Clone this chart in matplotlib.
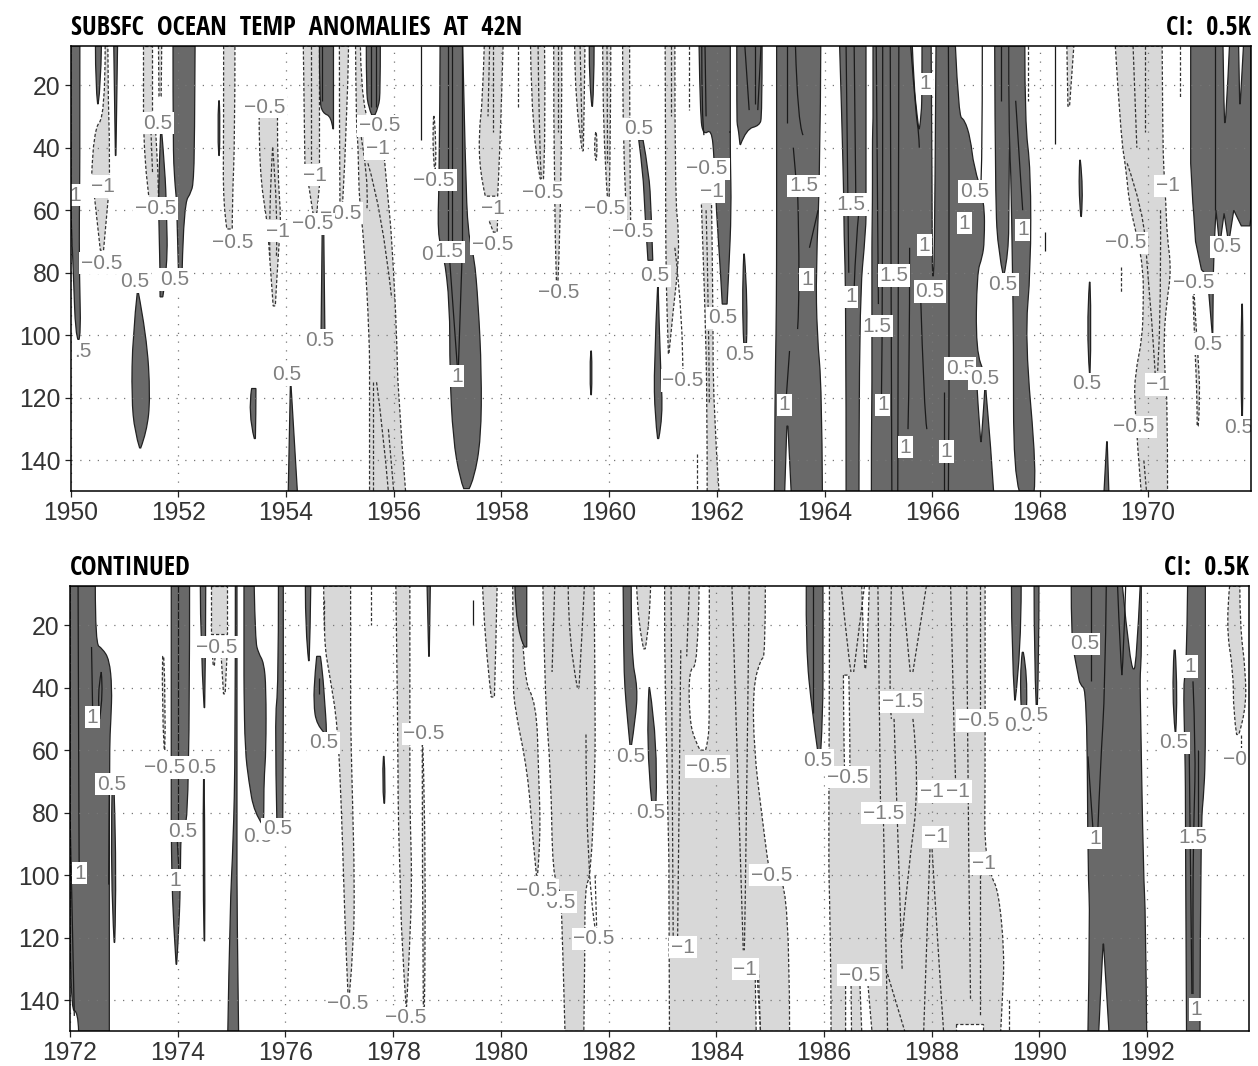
import matplotlib
matplotlib.use('Agg')
import numpy as np
import matplotlib.pyplot as plt
from matplotlib.path import Path
from matplotlib.patches import PathPatch

plt.rcParams['font.family'] = ['Liberation Sans', 'DejaVu Sans']

# every shape is (depths, left edge in years, right edge in years)
top_warm = [
    ([7.5, 52, 60, 80, 100, 101.5], [1950, 1950, 1950, 1950.05, 1950.09, 1950.14], [1950.17, 1950.17, 1950.16, 1950.16, 1950.19, 1950.15]),
    ([7.5, 20, 26], [1950.46, 1950.46, 1950.5], [1950.57, 1950.56, 1950.51]),
    ([7.5, 42.5], [1950.80, 1950.83], [1950.87, 1950.84]),
    ([35, 47, 60, 78, 87.7], [1951.67, 1951.64, 1951.63, 1951.66, 1951.66], [1951.69, 1951.75, 1951.78, 1951.80, 1951.71]),
    ([7.5, 40, 50, 54, 58, 79], [1951.90, 1951.90, 1951.93, 1951.95, 1951.97, 1952.0], [1952.31, 1952.30, 1952.28, 1952.25, 1952.10, 1952.07]),
    ([25, 34, 42.5], [1952.75, 1952.72, 1952.75], [1952.76, 1952.78, 1952.76]),
    ([85.7, 100, 120, 131, 136], [1951.24, 1951.15, 1951.13, 1951.19, 1951.28], [1951.25, 1951.41, 1951.48, 1951.41, 1951.30]),
    ([117, 125, 133], [1953.36, 1953.29, 1953.41], [1953.44, 1953.44, 1953.43]),
    ([115.5, 150], [1954.08, 1954.04], [1954.09, 1954.21]),
    ([7.5, 25, 29, 30, 34], [1954.62, 1954.62, 1954.68, 1954.84, 1954.87], [1954.88, 1954.88, 1954.88, 1954.88, 1954.88]),
    ([67, 98.7], [1954.67, 1954.65], [1954.70, 1954.72]),
    ([7.5, 22, 27, 29.5], [1955.49, 1955.49, 1955.53, 1955.59], [1955.75, 1955.75, 1955.72, 1955.65]),
    ([7.5, 47, 68, 74, 90, 111.7, 133, 146, 149], [1956.86, 1956.85, 1956.81, 1956.93, 1957.04, 1957.04, 1957.10, 1957.23, 1957.30],
     [1957.28, 1957.33, 1957.38, 1957.49, 1957.57, 1957.63, 1957.62, 1957.49, 1957.40]),
    ([7.5, 20, 26.8], [1959.63, 1959.63, 1959.68], [1959.72, 1959.72, 1959.69]),
    ([105, 112, 119], [1959.66, 1959.63, 1959.66], [1959.67, 1959.69, 1959.67]),
    ([37.6, 48, 60, 76], [1960.55, 1960.63, 1960.66, 1960.72], [1960.63, 1960.74, 1960.78, 1960.81]),
    ([84.4, 110, 126, 133], [1960.90, 1960.83, 1960.85, 1960.90], [1960.91, 1960.95, 1961.0, 1960.92]),
    ([7.5, 30, 36, 34, 43, 60, 80, 90], [1961.67, 1961.69, 1961.75, 1961.90, 1961.95, 1961.99, 1962.07, 1962.10],
     [1962.25, 1962.25, 1962.25, 1962.25, 1962.25, 1962.27, 1962.22, 1962.19]),
    ([7.5, 30, 33, 34, 39], [1962.37, 1962.37, 1962.38, 1962.40, 1962.43], [1962.84, 1962.84, 1962.79, 1962.55, 1962.44]),
    ([74, 90, 102.5], [1962.50, 1962.46, 1962.50], [1962.51, 1962.58, 1962.55]),
    ([7.5, 46, 79, 100, 117, 150], [1963.11, 1963.11, 1963.11, 1963.10, 1963.08, 1963.07], [1963.93, 1963.92, 1963.84, 1963.86, 1963.95, 1963.96]),
    ([7.5, 30, 58, 66, 90, 150], [1964.28, 1964.32, 1964.36, 1964.36, 1964.40, 1964.40], [1964.77, 1964.77, 1964.77, 1964.77, 1964.64, 1964.64]),
    ([7.5, 30, 31, 37, 46, 57, 70, 75, 80, 105, 113, 117, 134, 150],
     [1964.90, 1964.90, 1964.90, 1964.89, 1964.89, 1964.89, 1964.88, 1964.88, 1964.88, 1964.88, 1964.88, 1964.88, 1964.87, 1964.87],
     [1966.43, 1966.49, 1966.60, 1966.71, 1966.77, 1966.97, 1966.97, 1966.93, 1966.83, 1966.81, 1966.99, 1966.99, 1967.08, 1967.14]),
    ([7.5, 57, 73.8, 80.9], [1967.16, 1967.17, 1967.23, 1967.32], [1967.46, 1967.42, 1967.42, 1967.33]),
    ([7.5, 32, 47, 79, 101, 144, 150], [1967.42, 1967.42, 1967.46, 1967.49, 1967.51, 1967.51, 1967.62],
     [1967.72, 1967.72, 1967.83, 1967.83, 1967.72, 1967.94, 1967.89]),
    ([44, 53, 62], [1968.74, 1968.71, 1968.76], [1968.75, 1968.81, 1968.77]),
    ([83, 98, 112], [1968.92, 1968.86, 1968.92], [1968.93, 1968.96, 1968.93]),
    ([134, 150], [1969.24, 1969.19], [1969.25, 1969.28]),
    ([90, 108, 127], [1971.75, 1971.72, 1971.75], [1971.76, 1971.78, 1971.76]),
]
# the 1971 patch ends in fingers, so it is kept as one outline (years, depths)
top_outline_years = [1970.80, 1970.80, 1970.84, 1970.86, 1970.89, 1971.0, 1971.11, 1971.20, 1971.21, 1971.22, 1971.24, 1971.27,
                     1971.33, 1971.35, 1971.42, 1971.50, 1971.51, 1971.60, 1971.74, 1971.90, 1971.92, 1971.92]
top_outline_depths = [7.5, 45, 57.6, 62, 70, 79, 81, 99.6, 99.6, 81, 70, 60, 70, 70, 61, 70, 70, 60, 65, 65, 62, 7.5]

top_warm_holes = [
    ([129, 150], [1963.30, 1963.26], [1963.32, 1963.38]),
    ([7.5, 20, 30, 34], [1965.63, 1965.66, 1965.72, 1965.75], [1965.81, 1965.81, 1965.80, 1965.76]),
    ([7.5, 60, 80, 81], [1965.98, 1966.0, 1966.0, 1966.01], [1966.07, 1966.05, 1966.03, 1966.02]),
    ([113, 120, 134], [1966.82, 1966.84, 1966.90], [1966.99, 1966.97, 1966.91]),
    ([7.5, 30, 32], [1971.40, 1971.42, 1971.43], [1971.52, 1971.46, 1971.44]),
    ([7.5, 26], [1971.69, 1971.71], [1971.78, 1971.72]),
]
top_cool = [
    ([7.5, 30, 34, 49], [1950.64, 1950.64, 1950.42, 1950.39], [1950.69, 1950.70, 1950.72, 1950.72]),
    ([55.5, 72.8], [1950.44, 1950.55], [1950.70, 1950.61]),
    ([7.5, 29], [1951.35, 1951.35], [1951.51, 1951.51]),
    ([29, 45, 58], [1951.35, 1951.36, 1951.47], [1951.55, 1951.63, 1951.63]),
    ([7.5, 23.6], [1951.63, 1951.64], [1951.69, 1951.68]),
    ([7.5, 36, 58, 66], [1952.84, 1952.84, 1952.83, 1952.90], [1953.05, 1953.05, 1953.0, 1953.0]),
    ([30, 47, 64, 69, 90.6], [1953.50, 1953.50, 1953.65, 1953.67, 1953.76], [1953.84, 1953.84, 1953.91, 1953.87, 1953.80]),
    ([7.5, 45.7], [1954.32, 1954.35], [1954.62, 1954.62]),
    ([52, 61], [1954.42, 1954.50], [1954.62, 1954.57]),
    ([7.5, 30, 57.6], [1954.99, 1954.99, 1955.0], [1955.16, 1955.14, 1955.05]),
    ([7.5, 30, 38, 42.5, 57.6, 68, 100.9, 117, 150], [1955.29, 1955.30, 1955.33, 1955.34, 1955.36, 1955.44, 1955.55, 1955.55, 1955.55],
     [1955.38, 1955.40, 1955.80, 1955.82, 1955.90, 1955.96, 1956.06, 1956.07, 1956.22]),
    ([30, 40, 47], [1956.74, 1956.71, 1956.76], [1956.75, 1956.80, 1956.77]),
    ([7.5, 25, 35, 48, 55.5], [1957.68, 1957.65, 1957.58, 1957.60, 1957.70], [1958.03, 1958.0, 1957.98, 1957.95, 1957.93]),
    ([62, 67], [1957.74, 1957.85], [1957.93, 1957.92]),
    ([7.5, 36, 50], [1958.54, 1958.56, 1958.72], [1958.80, 1958.82, 1958.78]),
    ([7.5, 55, 82.5], [1958.97, 1958.97, 1959.02], [1959.12, 1959.12, 1959.05]),
    ([7.5, 25, 41], [1959.36, 1959.36, 1959.50], [1959.55, 1959.54, 1959.52]),
    ([35, 40, 44], [1959.75, 1959.71, 1959.75], [1959.76, 1959.79, 1959.76]),
    ([7.5, 35, 56.5], [1959.88, 1959.88, 1959.97], [1960.03, 1960.03, 1960.0]),
    ([7.5, 40, 65], [1960.25, 1960.25, 1960.33], [1960.38, 1960.38, 1960.40]),
    ([7.5, 55, 68, 80, 90, 106], [1961.04, 1961.05, 1961.05, 1961.06, 1961.07, 1961.10], [1961.22, 1961.22, 1961.30, 1961.27, 1961.20, 1961.11]),
    ([56.5, 90, 122, 150], [1961.71, 1961.78, 1961.82, 1961.82], [1961.90, 1961.93, 1961.93, 1962.04]),
    ([7.5, 26.8], [1968.50, 1968.52], [1968.63, 1968.55]),
    ([7.5, 36, 47, 58, 68, 79, 90, 101, 112, 122, 150], [1969.40, 1969.50, 1969.60, 1969.66, 1969.80, 1969.92, 1969.92, 1969.90, 1969.77, 1969.75, 1969.88],
     [1970.27, 1970.28, 1970.30, 1970.34, 1970.36, 1970.44, 1970.35, 1970.30, 1970.32, 1970.37, 1970.37]),
    ([85.7, 105, 120, 129], [1970.84, 1970.88, 1970.92, 1970.92], [1970.86, 1970.93, 1970.98, 1970.94]),
]
top_solid = [
    ([7.5, 37.6], [1956.51, 1956.51]), ([7.5, 25], [1954.66, 1954.66]),
    ([7.5, 27], [1955.57, 1955.57]), ([7.5, 27], [1955.67, 1955.67]),
    ([7.5, 70], [1957.0, 1957.0]), ([7.5, 70], [1957.08, 1957.08]), ([7.5, 70], [1957.27, 1957.27]),
    ([74, 110], [1957.03, 1957.18]), ([74, 110], [1957.27, 1957.20]),
    ([7.5, 30, 36], [1961.72, 1961.72, 1961.76]), ([7.5, 30], [1961.78, 1961.80]),
    ([7.5, 28], [1962.52, 1962.60]), ([7.5, 28], [1962.82, 1962.76]), ([7.5, 26], [1962.70, 1962.70]),
    ([7.5, 32], [1963.31, 1963.31]), ([7.5, 32, 36], [1963.46, 1963.50, 1963.60]), ([40, 52], [1963.42, 1963.48]),
    ([54, 85, 98], [1963.50, 1963.55, 1963.50]), ([60, 72], [1963.88, 1963.72]), ([105, 122], [1963.35, 1963.28]),
    ([7.5, 80], [1964.40, 1964.45]), ([7.5, 55], [1964.55, 1964.58]), ([60, 70, 85], [1964.64, 1964.58, 1964.55]),
    ([7.5, 90], [1964.96, 1965.0]), ([7.5, 110, 125], [1965.08, 1965.08, 1965.05]),
    ([7.5, 150], [1965.22, 1965.25]), ([7.5, 150], [1965.38, 1965.36]),
    ([7.5, 30, 35, 40], [1965.60, 1965.70, 1965.75, 1965.76]), ([72, 110, 130], [1965.58, 1965.58, 1965.55]),
    ([85, 125, 130], [1965.78, 1965.85, 1965.90]), ([7.5, 90, 150], [1966.30, 1966.33, 1966.30]), ([118, 150], [1966.22, 1966.22]),
    ([7.5, 47, 52], [1966.93, 1966.93, 1966.90]), ([7.5, 25], [1967.28, 1967.28]), ([25, 50, 60], [1967.55, 1967.64, 1967.68]),
    ([7.5, 38.7], [1968.28, 1968.28]), ([67, 73], [1968.10, 1968.10]), ([7.5, 60], [1971.26, 1971.26]),
]
top_dashed = [
    ([30, 48], [1951.48, 1951.52]), ([40, 60, 75], [1953.75, 1953.68, 1953.70]), ([40, 60, 75], [1953.75, 1953.85, 1953.82]),
    ([7.5, 45], [1954.47, 1954.47]), ([30, 50, 60], [1955.33, 1955.55, 1955.50]), ([45, 60, 88], [1955.52, 1955.78, 1955.96]),
    ([115, 150], [1955.62, 1955.62]), ([115, 130, 150], [1955.68, 1955.80, 1955.90]), ([130, 150], [1955.90, 1956.0]),
    ([7.5, 35], [1957.85, 1957.85]), ([7.5, 27], [1958.31, 1958.31]), ([7.5, 28], [1961.49, 1961.49]),
    ([7.5, 40, 50], [1958.68, 1958.70, 1958.74]), ([7.5, 35], [1959.05, 1959.05]), ([7.5, 38], [1959.46, 1959.50]),
    ([7.5, 45], [1959.96, 1959.97]), ([7.5, 30], [1957.78, 1957.75]), ([7.5, 30], [1961.14, 1961.14]), ([60, 90, 122], [1961.80, 1961.85, 1961.86]),
    ([72, 95, 116], [1961.22, 1961.38, 1961.37]), ([138, 150], [1961.63, 1961.63]), ([7.5, 25], [1967.77, 1967.77]),
    ([78, 86], [1969.50, 1969.50]), ([7.5, 40], [1969.73, 1969.80]), ([7.5, 35], [1969.95, 1969.95]),
    ([45, 60, 80, 100, 115], [1969.62, 1969.92, 1970.0, 1970.10, 1970.15]), ([60, 100, 115], [1970.24, 1970.25, 1970.17]),
    ([140, 150], [1969.93, 1969.98]), ([7.5, 24], [1970.60, 1970.60]),
]
top_labels = [
    ('0.5', 1951.61, 32.2), ('−0.5', 1953.61, 27.1), ('−0.5', 1955.74, 33), ('−1', 1955.70, 40.3), ('−1', 1950.59, 52.4),
    ('1', 1950.09, 55.2), ('−0.5', 1951.58, 59.5), ('−1', 1954.54, 48.8), ('−0.5', 1955.01, 60.9), ('−0.5', 1954.49, 64.3),
    ('−0.5', 1956.75, 50.4), ('−0.5', 1958.76, 54.4), ('−1', 1957.85, 59.6), ('−0.5', 1957.83, 70.8), ('−0.5', 1953.0, 70.2),
    ('−1', 1953.85, 66.7), ('0', 1956.61, 74), ('1.5', 1957.03, 73.3), ('−0.5', 1950.57, 76.9), ('0.5', 1951.19, 82.8),
    ('0.5', 1951.93, 82.2), ('−0.5', 1959.07, 86.3), ('0.5', 1954.62, 101.7), ('.5', 1950.22, 105.2), ('0.5', 1954.02, 112.5),
    ('1', 1957.17, 113), ('0.5', 1960.54, 34), ('−0.5', 1959.92, 59.4), ('−0.5', 1960.43, 66.7), ('0.5', 1960.85, 81),
    ('−0.5', 1961.82, 46.8), ('−1', 1961.90, 54), ('1.5', 1963.61, 52.2), ('1.5', 1964.49, 58.2), ('1', 1966.60, 64.1),
    ('0.5', 1966.78, 54), ('1', 1967.68, 66.3), ('1', 1965.85, 71.2), ('1.5', 1965.29, 80.9), ('1', 1963.67, 82.2),
    ('0.5', 1965.96, 86), ('1', 1964.49, 87.7), ('0.5', 1967.31, 83.8), ('1.5', 1964.98, 97.1), ('0.5', 1962.10, 94.4),
    ('0.5', 1962.43, 106), ('−0.5', 1961.37, 114.4), ('0.5', 1966.52, 110.6), ('0.5', 1966.97, 113.8), ('0.5', 1968.87, 115.5),
    ('−1', 1970.20, 115.7), ('1', 1963.25, 122.2), ('1', 1965.08, 122.2), ('−0.5', 1969.75, 129.3), ('1', 1965.50, 135.7),
    ('1', 1966.26, 137.1), ('0.5', 1971.69, 129.5), ('1', 1965.87, 19.6), ('−1', 1970.37, 52.2), ('−0.5', 1969.60, 70.4),
    ('−0.5', 1970.85, 83.2), ('0.5', 1971.11, 102.8), ('0.5', 1971.46, 71.7),
]

bottom_warm = [
    ([7.5, 26, 27.5, 31, 40, 50, 60, 143, 143.5, 150], [1972, 1972, 1972, 1972, 1972, 1972, 1972, 1972, 1972.15, 1972.16],
     [1972.47, 1972.47, 1972.60, 1972.73, 1972.78, 1972.76, 1972.73, 1972.73, 1972.73, 1972.73]),
    ([74, 100, 121.5], [1972.78, 1972.75, 1972.82], [1972.82, 1972.87, 1972.83]),
    ([7.5, 83, 84, 100, 115, 128.5], [1973.88, 1973.88, 1973.88, 1973.89, 1973.92, 1973.97], [1974.22, 1974.22, 1974.06, 1974.05, 1974.03, 1973.98]),
    ([7.5, 25, 46.4], [1974.42, 1974.42, 1974.49], [1974.52, 1974.52, 1974.50]),
    ([69, 95, 121], [1974.48, 1974.46, 1974.49], [1974.49, 1974.51, 1974.50]),
    ([7.5, 60, 90, 110, 150], [1975.07, 1975.07, 1975.03, 1974.97, 1974.93], [1975.10, 1975.10, 1975.10, 1975.10, 1975.13]),
    ([7.5, 25, 29, 32, 40, 60, 70, 80, 84], [1975.23, 1975.23, 1975.23, 1975.23, 1975.23, 1975.25, 1975.32, 1975.42, 1975.58],
     [1975.42, 1975.44, 1975.50, 1975.60, 1975.64, 1975.64, 1975.60, 1975.60, 1975.59]),
    ([7.5, 40, 50, 82], [1975.87, 1975.87, 1975.80, 1975.84], [1975.96, 1975.96, 1975.96, 1975.95]),
    ([7.5, 22, 31.4], [1976.37, 1976.37, 1976.43], [1976.47, 1976.46, 1976.44]),
    ([30, 35, 45, 52, 54.4], [1976.58, 1976.55, 1976.52, 1976.58, 1976.72], [1976.65, 1976.69, 1976.73, 1976.76, 1976.76]),
    ([62, 70, 77], [1977.82, 1977.79, 1977.83], [1977.83, 1977.86, 1977.84]),
    ([7.5, 30], [1978.63, 1978.66], [1978.69, 1978.67]),
    ([7.5, 22, 27], [1980.26, 1980.28, 1980.44], [1980.48, 1980.48, 1980.48]),
    ([7.5, 30, 40, 50, 59], [1982.27, 1982.28, 1982.30, 1982.35, 1982.40], [1982.42, 1982.42, 1982.54, 1982.50, 1982.42]),
    ([40, 58, 76.5], [1982.75, 1982.69, 1982.80], [1982.76, 1982.92, 1982.88]),
    ([7.5, 27, 48, 60], [1985.67, 1985.66, 1985.78, 1985.88], [1985.98, 1985.98, 1985.98, 1985.94]),
    ([7.5, 28, 44], [1989.48, 1989.48, 1989.54], [1989.66, 1989.66, 1989.55]),
    ([28.7, 36, 46], [1989.68, 1989.63, 1989.66], [1989.70, 1989.78, 1989.76]),
    ([7.5, 30, 46], [1989.90, 1989.90, 1989.94], [1989.99, 1989.99, 1989.96]),
    ([7.5, 23, 30, 36, 39, 41, 100, 112, 150], [1990.59, 1990.59, 1990.65, 1990.72, 1990.75, 1990.88, 1990.90, 1990.94, 1990.90],
     [1991.89, 1991.89, 1991.89, 1991.87, 1991.87, 1991.87, 1991.93, 1991.97, 1991.99]),
    ([28, 42, 54.4], [1992.50, 1992.45, 1992.52], [1992.52, 1992.57, 1992.53]),
    ([7.5, 35, 38, 60, 72, 85, 150], [1992.75, 1992.73, 1992.67, 1992.70, 1992.71, 1992.71, 1992.73], [1993.08, 1993.08, 1993.08, 1993.08, 1993.06, 1992.99, 1992.98]),
]
bottom_warm_holes = [
    ([7.5, 33, 34], [1991.54, 1991.68, 1991.74], [1991.87, 1991.80, 1991.76]),
    ([122, 150], [1991.18, 1991.10], [1991.19, 1991.29]),
]
bottom_cool = [
    ([30, 45, 60], [1973.72, 1973.70, 1973.75], [1973.74, 1973.78, 1973.76]),
    ([7.5, 23], [1974.62, 1974.62], [1974.92, 1974.92]),
    ([25, 33], [1974.62, 1974.66], [1974.72, 1974.68]),
    ([28, 42], [1974.80, 1974.85], [1974.92, 1974.88]),
    ([7.5, 25, 36, 52, 79, 101, 122, 137.6], [1976.71, 1976.71, 1976.82, 1976.97, 1977.04, 1977.08, 1977.12, 1977.16],
     [1977.21, 1977.21, 1977.21, 1977.21, 1977.25, 1977.28, 1977.27, 1977.19]),
    ([7.5, 57, 79, 101, 122, 142], [1978.05, 1978.09, 1978.09, 1978.13, 1978.16, 1978.24], [1978.31, 1978.31, 1978.31, 1978.35, 1978.31, 1978.25]),
    ([58, 95, 142], [1978.54, 1978.54, 1978.56], [1978.55, 1978.62, 1978.58]),
    ([7.5, 25, 43], [1979.66, 1979.70, 1979.82], [1979.93, 1979.91, 1979.88]),
    ([7.5, 36.7, 45, 67, 88, 100], [1980.22, 1980.23, 1980.24, 1980.50, 1980.59, 1980.66], [1980.37, 1980.40, 1980.66, 1980.70, 1980.74, 1980.68]),
    ([7.5, 41, 68, 100, 104, 124, 150], [1980.78, 1980.81, 1980.93, 1980.96, 1981.11, 1981.15, 1981.19], [1981.73, 1981.75, 1981.75, 1981.67, 1981.56, 1981.56, 1981.54]),
    ([7.5, 20, 27.6], [1982.52, 1982.55, 1982.65], [1982.78, 1982.76, 1982.68]),
    ([7.5, 30, 31, 40, 60, 80, 95, 100, 103, 150], [1983.04, 1983.04, 1983.05, 1983.05, 1983.08, 1983.10, 1983.12, 1983.12, 1983.12, 1983.13],
     [1984.91, 1984.91, 1984.82, 1984.68, 1984.70, 1984.84, 1984.95, 1985.0, 1985.36, 1985.36]),
    ([7.5, 20, 33, 73, 90, 100, 105, 125, 140, 150], [1986.10, 1986.10, 1986.10, 1986.09, 1986.09, 1986.09, 1986.10, 1986.12, 1986.13, 1986.13],
     [1988.99, 1988.99, 1988.99, 1988.99, 1988.98, 1989.09, 1989.24, 1989.35, 1989.31, 1989.28]),
    ([7.5, 20, 35, 48, 55], [1993.53, 1993.46, 1993.60, 1993.60, 1993.66], [1993.72, 1993.72, 1993.83, 1993.83, 1993.70]),
]
bottom_cool_holes = [
    ([7.5, 33, 34, 50, 57, 60], [1983.68, 1983.66, 1983.49, 1983.50, 1983.60, 1983.70], [1983.87, 1983.87, 1983.87, 1983.87, 1983.85, 1983.80]),
    ([130, 150], [1984.72, 1984.74], [1984.78, 1984.82]),
    ([36, 50, 66], [1986.36, 1986.36, 1986.38], [1986.46, 1986.48, 1986.48]),
    ([7.5, 30, 34], [1986.70, 1986.74, 1986.76], [1986.84, 1986.80, 1986.77]),
    ([132, 150], [1986.40, 1986.40], [1986.50, 1986.51]),
    ([132, 150], [1986.66, 1986.70], [1986.80, 1986.89]),
    ([147.5, 150], [1988.45, 1988.45], [1988.95, 1988.95]),
]
bottom_solid = [
    ([7.5, 60, 98], [1972.15, 1972.16, 1972.17]), ([80, 145], [1972.0, 1972.08]), ([27, 47], [1972.40, 1972.42]),
    ([35, 42, 50], [1972.58, 1972.62, 1972.55]), ([35, 42, 50], [1972.58, 1972.50, 1972.55]), ([74, 103], [1972.73, 1972.72]),
    ([7.5, 62], [1974.0, 1974.0]), ([68, 83], [1974.0, 1974.0]), ([85, 98], [1973.98, 1974.02]),
    ([37, 42], [1976.62, 1976.62]), ([12, 20], [1979.49, 1979.49]), ([7.5, 48], [1985.80, 1985.80]),
    ([7.5, 38], [1990.95, 1990.95]), ([7.5, 40, 65, 87], [1991.24, 1991.22, 1991.13, 1991.08]), ([62, 87], [1990.90, 1991.0]),
    ([7.5, 30, 36], [1991.45, 1991.50, 1991.53]), ([7.5, 30, 36], [1991.60, 1991.56, 1991.53]),
    ([38, 60, 80, 100, 120, 138], [1992.85, 1992.90, 1992.87, 1992.85, 1992.85, 1992.85]), ([60, 138], [1992.78, 1992.83]), ([60, 85], [1992.95, 1992.95]),
]
bottom_dashed = [
    ([7.5, 20], [1977.58, 1977.58]), ([12, 22], [1976.72, 1976.72]), ([7.5, 35], [1981.0, 1980.95]),
    ([7.5, 25, 40], [1981.25, 1981.25, 1981.42]), ([7.5, 25, 40], [1981.55, 1981.50, 1981.45]), ([55, 100, 118], [1981.58, 1981.58, 1981.76]),
    ([100, 118], [1981.75, 1981.78]), ([7.5, 122], [1983.16, 1983.20]), ([28, 122], [1983.34, 1983.28]),
    ([7.5, 124], [1984.29, 1984.50]), ([7.5, 100, 124], [1984.61, 1984.55, 1984.52]), ([7.5, 30], [1983.50, 1983.45]), ([130, 150], [1984.75, 1984.82]),
    ([7.5, 30, 35], [1986.32, 1986.45, 1986.50]), ([7.5, 35], [1986.75, 1986.55]), ([7.5, 80], [1987.0, 1987.05]),
    ([7.5, 42, 50], [1987.25, 1987.20, 1987.25]), ([7.5, 35], [1987.45, 1987.60]), ([7.5, 35], [1987.90, 1987.65]),
    ([50, 130], [1987.30, 1987.45]), ([50, 70, 100, 120], [1987.65, 1987.78, 1987.55, 1987.45]), ([80, 150], [1987.10, 1987.18]),
    ([130, 150], [1987.15, 1987.50]), ([90, 120, 150], [1988.0, 1988.10, 1988.22]), ([90, 150], [1987.97, 1987.85]),
    ([7.5, 60, 75], [1988.35, 1988.42, 1988.45]), ([7.5, 50, 140], [1988.65, 1988.65, 1988.72]), ([100, 145], [1988.90, 1988.90]),
    ([7.5, 50], [1988.90, 1988.90]), ([140, 150], [1989.43, 1989.43]), ([55, 63], [1993.75, 1993.75]),
]
bottom_labels = [
    ('−0.5', 1974.73, 27.1), ('1', 1972.42, 49.4), ('0.5', 1976.71, 57.7), ('−0.5', 1978.57, 54.8), ('−0.5', 1973.75, 65.5),
    ('0.5', 1974.45, 65.5), ('0.5', 1972.77, 70.9), ('0.5', 1974.10, 85.9), ('0.5', 1975.48, 87.7), ('0.5', 1975.85, 85.2),
    ('1', 1972.18, 99.3), ('1', 1973.96, 101.6), ('−0.5', 1981.0, 108.6), ('−0.5', 1980.66, 104.9), ('−0.5', 1981.73, 120.4),
    ('−0.5', 1977.16, 141.1), ('−0.5', 1978.24, 145.6), ('0.5', 1982.41, 62), ('−0.5', 1983.83, 65.2), ('0.5', 1985.88, 63.3),
    ('0.5', 1982.78, 79.9), ('−0.5', 1986.44, 68.6), ('0.5', 1990.83, 26), ('1', 1992.80, 33.3), ('−1.5', 1987.45, 44.5),
    ('−0.5', 1988.87, 50.5), ('0.5', 1989.61, 52), ('0.5', 1989.90, 49), ('0.5', 1992.49, 57.7), ('−0.5', 1993.80, 63),
    ('−1', 1988.0, 73.2), ('−1', 1988.49, 73.2), ('−1.5', 1987.10, 80.2), ('−1', 1988.07, 87.7), ('1', 1991.03, 88.2),
    ('1.5', 1992.84, 88), ('−1', 1988.97, 96.3), ('−0.5', 1985.02, 100), ('−1', 1983.38, 123), ('−1', 1984.54, 130),
    ('−0.5', 1986.66, 132), ('1', 1992.91, 143),
]

depth_ticks = [20, 40, 60, 80, 100, 120, 140]
top_years = list(range(1950, 1971, 2))
bottom_years = list(range(1972, 1993, 2))

dark_gray = '#696969'
light_gray = '#d8d8d8'
dash = (0, (2.6, 1.6))
title_font = ['Open Sans Condensed', 'Roboto Condensed', 'Liberation Sans']


# rounded run through the read points, using matplotlib's quadratic path segments
def curve_path(pts, start=Path.MOVETO):
    pts = [np.array(p, dtype=float) for p in pts]
    verts, codes = [pts[0]], [start]
    if len(pts) == 2:
        verts.append(pts[1])
        codes.append(Path.LINETO)
        return verts, codes
    for i in range(1, len(pts) - 1):
        end = pts[i + 1] if i == len(pts) - 2 else (pts[i] + pts[i + 1]) / 2
        verts += [pts[i], end]
        codes += [Path.CURVE3, Path.CURVE3]
    return verts, codes


def shape(ax, d, left, right, face, edge='#222222', ls='-', lw=0.9, z=2):
    v1, c1 = curve_path(list(zip(left, d)))
    v2, c2 = curve_path(list(zip(right[::-1], d[::-1])), start=Path.LINETO)
    verts = v1 + v2 + [v1[0]]
    codes = c1 + c2 + [Path.CLOSEPOLY]
    ax.add_patch(PathPatch(Path(verts, codes), facecolor=face, edgecolor=edge, linestyle=ls, linewidth=lw, zorder=z))


def curve(ax, d, x, color, ls, z=2.4):
    verts, codes = curve_path(list(zip(x, d)))
    ax.add_patch(PathPatch(Path(verts, codes), facecolor='none', edgecolor=color, linestyle=ls, linewidth=0.9, zorder=z))


def panel(ax, warm, warm_holes, cool, cool_holes, solid, dashed, labels, years, x_end, title):
    for d, l, r in cool:
        shape(ax, d, l, r, light_gray, edge='#333333', ls=dash, z=2)
    for d, l, r in cool_holes:
        shape(ax, d, l, r, 'white', edge='#333333', ls=dash, z=2.1)
    for d, l, r in warm:
        shape(ax, d, l, r, dark_gray, z=2.2)
    for d, l, r in warm_holes:
        shape(ax, d, l, r, 'white', z=2.3)
    for d, x in dashed:
        curve(ax, d, x, '#333333', dash)
    for d, x in solid:
        curve(ax, d, x, '#1a1a1a', '-')

    ax.set_xlim(years[0], x_end)
    ax.set_ylim(149.7, 7.5)
    ax.set_xticks(years)
    ax.set_yticks(depth_ticks)
    ax.tick_params(labelsize=17.8, length=4.5, width=0.9, color='#222222', labelcolor='#333333', pad=3)
    ax.grid(True, color='#777777', linestyle=(0, (1, 6)), linewidth=0.9)
    ax.set_axisbelow(False)
    for s in ax.spines.values():
        s.set_linewidth(1.1)
        s.set_zorder(6)

    for txt, x, d in labels:
        ax.text(x, d, txt, fontsize=15, color='#808080', ha='center', va='center', zorder=5, clip_on=True,
                bbox=dict(facecolor='white', edgecolor='none', pad=1.2))

    ax.set_title(title, loc='left', fontsize=19, fontweight='bold', pad=8, family=title_font)
    ax.set_title('CI:  0.5K', loc='right', fontsize=19, fontweight='bold', pad=8, family=title_font)


fig = plt.figure(figsize=(12.58, 10.66), dpi=100)
ax1 = fig.add_axes([70.7 / 1258, 1 - 490.8 / 1066, (1251 - 70.7) / 1258, (490.8 - 46) / 1066])
ax2 = fig.add_axes([70 / 1258, 1 - 1030.6 / 1066, (1249 - 70) / 1258, (1030.6 - 586) / 1066])

ax1.fill(top_outline_years, top_outline_depths, facecolor=dark_gray, edgecolor='#222222', linewidth=0.9, zorder=2.2)
panel(ax1, top_warm, top_warm_holes, top_cool, [], top_solid, top_dashed, top_labels, top_years, 1971.92,
      'SUBSFC  OCEAN  TEMP  ANOMALIES  AT  42N')
panel(ax2, bottom_warm, bottom_warm_holes, bottom_cool, bottom_cool_holes, bottom_solid, bottom_dashed, bottom_labels,
      bottom_years, 1993.89, 'CONTINUED')

fig.savefig('out.png', dpi=100)
